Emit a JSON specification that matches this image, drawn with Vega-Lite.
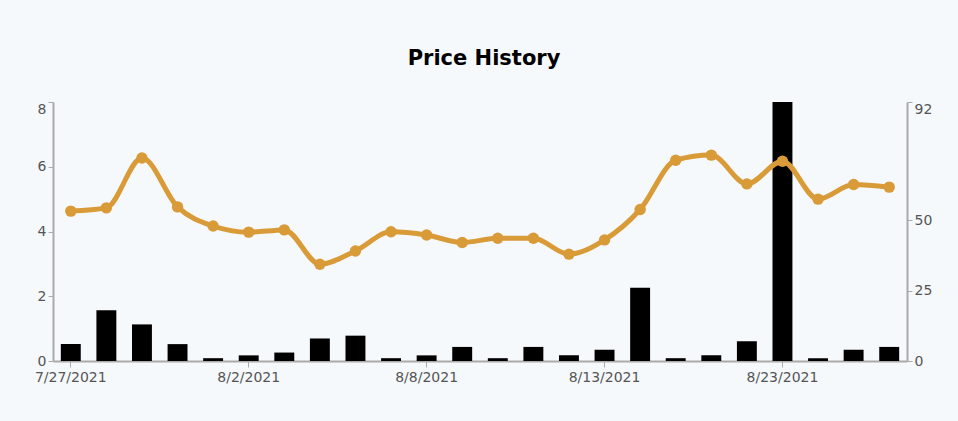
{
  "$schema": "https://vega.github.io/schema/vega-lite/v6.json",
  "background": "#f5f9fc",
  "autosize": "none",
  "padding": {"left": 53, "top": 102, "right": 51, "bottom": 60},
  "width": 854,
  "height": 259,
  "title": {
    "text": "Price History",
    "fontSize": 21,
    "font": "DejaVu Sans",
    "fontWeight": "bold",
    "color": "#000000",
    "anchor": "middle",
    "dx": 4,
    "offset": 33
  },
  "data": {
    "values": [
      {"date": "7/27/2021", "price": 4.63, "volume": 6},
      {"date": "7/28/2021", "price": 4.73, "volume": 18},
      {"date": "7/29/2021", "price": 6.27, "volume": 13},
      {"date": "7/30/2021", "price": 4.76, "volume": 6},
      {"date": "7/31/2021", "price": 4.17, "volume": 1},
      {"date": "8/2/2021", "price": 3.98, "volume": 2},
      {"date": "8/3/2021", "price": 4.05, "volume": 3},
      {"date": "8/4/2021", "price": 2.99, "volume": 8},
      {"date": "8/5/2021", "price": 3.4, "volume": 9},
      {"date": "8/6/2021", "price": 3.99, "volume": 1},
      {"date": "8/8/2021", "price": 3.89, "volume": 2},
      {"date": "8/9/2021", "price": 3.66, "volume": 5},
      {"date": "8/10/2021", "price": 3.79, "volume": 1},
      {"date": "8/11/2021", "price": 3.79, "volume": 5},
      {"date": "8/12/2021", "price": 3.3, "volume": 2},
      {"date": "8/13/2021", "price": 3.74, "volume": 4},
      {"date": "8/15/2021", "price": 4.68, "volume": 26},
      {"date": "8/17/2021", "price": 6.2, "volume": 1},
      {"date": "8/19/2021", "price": 6.36, "volume": 2},
      {"date": "8/21/2021", "price": 5.47, "volume": 7},
      {"date": "8/23/2021", "price": 6.17, "volume": 92},
      {"date": "8/24/2021", "price": 5.0, "volume": 1},
      {"date": "8/25/2021", "price": 5.45, "volume": 4},
      {"date": "8/26/2021", "price": 5.37, "volume": 5}
    ]
  },
  "encoding": {
    "x": {
      "field": "date",
      "type": "ordinal",
      "sort": null,
      "title": null,
      "scale": {"paddingInner": 0.44, "paddingOuter": 0.22},
      "axis": {
        "values": ["7/27/2021", "8/2/2021", "8/8/2021", "8/13/2021", "8/23/2021"],
        "labelAngle": 0,
        "labelFont": "DejaVu Sans",
        "labelFontSize": 14,
        "labelColor": "#555555",
        "domainColor": "#aaaaaa",
        "domainWidth": 2,
        "tickColor": "#aaaaaa",
        "tickSize": 6,
        "labelPadding": 3
      }
    }
  },
  "layer": [
    {
      "mark": {"type": "bar", "color": "#000000"},
      "encoding": {
        "y": {
          "field": "volume",
          "type": "quantitative",
          "title": null,
          "scale": {"domain": [0, 92], "nice": false},
          "axis": {
            "orient": "right",
            "values": [0, 25, 50, 92],
            "grid": false,
            "labelFont": "DejaVu Sans",
            "labelFontSize": 14,
            "labelColor": "#555555",
            "labelBaseline": {"condition": {"test": "datum.value == 92", "value": "top"}, "value": "middle"},
            "domainColor": "#aaaaaa",
            "domainWidth": 2,
            "tickColor": "#aaaaaa",
            "tickSize": 5
          }
        }
      }
    },
    {
      "mark": {
        "type": "line",
        "color": "#d99a38",
        "strokeWidth": 5,
        "interpolate": "monotone",
        "point": {"filled": true, "size": 130, "color": "#d99a38"}
      },
      "encoding": {
        "y": {
          "field": "price",
          "type": "quantitative",
          "title": null,
          "scale": {"domain": [0, 8], "nice": false},
          "axis": {
            "orient": "left",
            "values": [0, 2, 4, 6, 8],
            "grid": false,
            "labelFont": "DejaVu Sans",
            "labelFontSize": 14,
            "labelColor": "#555555",
            "labelBaseline": {"condition": {"test": "datum.value == 8", "value": "top"}, "value": "middle"},
            "domainColor": "#aaaaaa",
            "domainWidth": 2,
            "tickColor": "#aaaaaa",
            "tickSize": 5
          }
        }
      }
    }
  ],
  "resolve": {"scale": {"y": "independent"}},
  "config": {
    "view": {"stroke": null}
  }
}
